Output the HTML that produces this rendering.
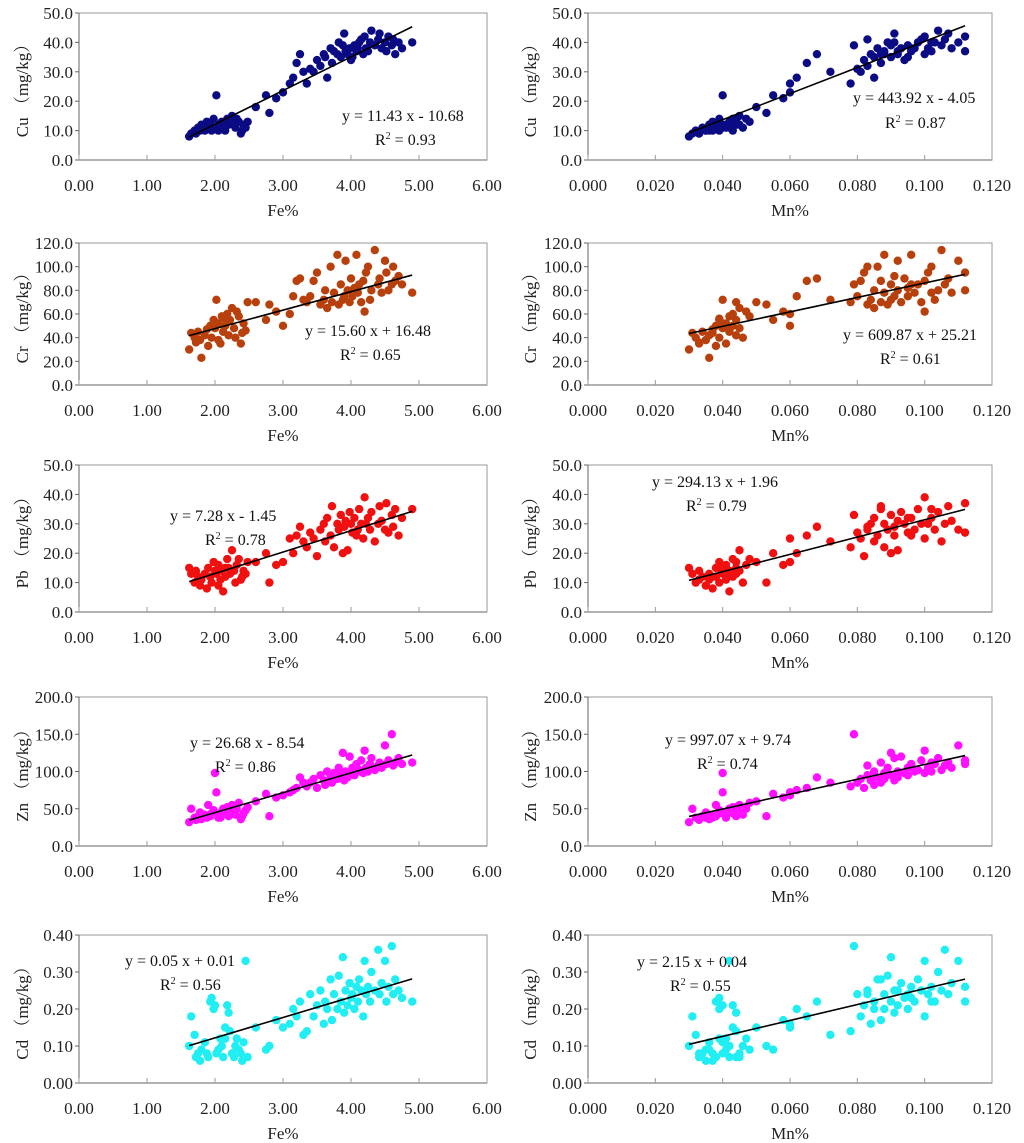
<!DOCTYPE html>
<html><head><meta charset="utf-8"><style>
body{margin:0;background:#fff;}
svg{display:block;font-family:"Liberation Serif","Noto Serif CJK SC",serif;}
</style></head><body>
<svg id="chart" width="1024" height="1143" viewBox="0 0 1024 1143"></svg>
<script>
// shared sample values
const fe = [1.62,1.65,1.70,1.72,1.75,1.78,1.80,1.85,1.88,1.90,1.93,1.95,1.98,2.00,2.02,2.05,2.08,2.10,2.12,2.15,2.18,2.20,2.22,2.25,2.28,2.30,2.32,2.35,2.38,2.40,2.42,2.45,2.48,2.05,2.15,
 2.6,2.8,2.75,2.9,3.0,3.1,3.15,3.2,3.25,3.3,
 3.35,3.4,3.45,3.5,3.55,3.6,3.62,3.65,3.7,3.72,3.75,3.8,3.82,3.85,3.88,3.9,3.92,3.95,3.98,4.0,4.02,4.05,4.08,4.1,4.12,4.15,4.18,4.2,4.22,4.25,4.28,4.3,4.35,4.4,4.42,4.45,4.5,4.52,4.55,4.6,4.62,4.65,4.7,4.75,4.9];
const mn = [0.030,0.031,0.032,0.033,0.034,0.035,0.036,0.036,0.037,0.038,0.038,0.039,0.039,0.040,0.040,0.041,0.041,0.042,0.042,0.043,0.043,0.044,0.044,0.045,0.045,0.046,0.047,0.048,0.033,0.037,0.040,0.042,0.044,0.035,0.039,
 0.050,0.053,0.055,0.058,0.060,0.060,0.062,0.065,0.068,0.072,
 0.078,0.080,0.081,0.082,0.083,0.084,0.085,0.085,0.086,0.087,0.088,0.088,0.089,0.090,0.090,0.091,0.092,0.092,0.093,0.094,0.095,0.095,0.096,0.097,0.098,0.099,0.100,0.100,0.101,0.102,0.103,0.104,0.105,0.106,0.107,0.108,0.110,0.112,0.112,0.079,0.083,0.087,0.091,0.096,0.102];
const cu = [8,9,10,9,11,10,12,10,13,11,12,10,14,11,22,12,11,13,12,10,14,12,13,15,12,11,14,13,9,10,12,11,13,10,12,
 18,16,22,21,23,26,28,33,36,30,
 26,31,30,34,32,36,35,28,38,33,37,36,40,35,39,43,37,36,38,34,35,39,37,38,40,41,36,42,38,37,40,44,39,41,43,38,40,37,42,39,41,36,40,38,40];
const cr = [30,44,40,36,45,38,23,42,47,33,50,40,55,48,72,52,35,58,45,50,60,42,55,65,48,40,62,58,35,44,52,46,70,38,56,
 70,68,55,62,50,60,75,88,90,72,
 70,75,88,95,68,72,80,65,100,70,78,110,68,85,72,75,105,80,70,90,75,82,110,78,85,70,88,62,95,100,72,80,114,85,90,78,105,95,80,85,100,88,92,85,78];
const pb = [15,13,10,14,12,9,11,13,8,15,12,10,17,14,13,16,11,14,7,12,18,15,13,21,14,10,16,18,11,12,14,13,17,9,15,
 17,10,20,16,17,25,20,26,29,24,
 22,27,25,19,28,30,24,32,26,36,22,30,28,33,20,29,31,21,34,30,27,32,26,28,35,30,25,39,30,32,28,34,24,30,36,31,28,37,27,33,29,35,26,32,35];
const zn = [32,50,38,35,40,45,36,42,38,55,40,44,48,98,72,42,38,46,50,44,52,40,48,55,45,42,50,58,36,40,44,48,52,38,46,
 60,40,70,65,68,72,75,78,92,85,
 80,85,90,78,95,88,82,100,92,85,98,90,105,95,125,88,100,92,120,98,105,95,110,100,102,115,98,128,105,100,110,118,102,108,112,105,135,110,115,150,108,112,118,110,112];
const cd = [0.10,0.18,0.13,0.07,0.08,0.06,0.09,0.11,0.08,0.07,0.22,0.23,0.20,0.21,0.08,0.09,0.12,0.10,0.07,0.15,0.21,0.19,0.14,0.08,0.07,0.10,0.12,0.09,0.08,0.06,0.11,0.33,0.07,0.09,0.12,
 0.15,0.10,0.09,0.17,0.15,0.16,0.20,0.18,0.22,0.13,
 0.14,0.24,0.18,0.21,0.25,0.16,0.22,0.20,0.28,0.17,0.24,0.20,0.29,0.22,0.34,0.19,0.25,0.21,0.27,0.23,0.24,0.20,0.26,0.22,0.28,0.25,0.18,0.33,0.24,0.26,0.22,0.30,0.25,0.36,0.24,0.27,0.33,0.22,0.26,0.37,0.24,0.28,0.25,0.23,0.22];
const feTicks = ["0.00","1.00","2.00","3.00","4.00","5.00","6.00"];
const mnTicks = ["0.000","0.020","0.040","0.060","0.080","0.100","0.120"];
const metals = ["Cu","Cr","Pb","Zn","Cd"];
const metalMax = [50,120,50,200,0.4];
const metalStep = [10,20,10,50,0.1];
const metalDec = [1,1,1,1,2];
const feSlope = [11.43,15.60,7.28,26.68,0.055];
const feIntercept = [-10.68,16.48,-1.45,-8.54,0.012];
const mnSlope = [443.92,609.87,294.13,997.07,2.15];
const mnIntercept = [-4.05,25.21,1.96,9.74,0.04];
const feEq = ["y = 11.43 x - 10.68","y = 15.60 x + 16.48","y = 7.28 x - 1.45","y = 26.68 x - 8.54","y = 0.05 x + 0.01"];
const feR2 = ["0.93","0.65","0.78","0.86","0.56"];
const mnEq = ["y = 443.92 x - 4.05","y = 609.87 x + 25.21","y = 294.13 x + 1.96","y = 997.07 x + 9.74","y = 2.15 x + 0.04"];
const mnR2 = ["0.87","0.61","0.79","0.74","0.55"];

const colors = ["#0b0b84","#b8400c","#f01010","#ff10ff","#20eef2"];
const rows = [[13,160],[243,385],[465,612],[697,846],[935,1083]];
const eqPosL = [[342,121,375,145],[305,336,340,360],[170,521,205,545],[190,748,215,772],[125,966,160,990]];
const eqPosR = [[853,103,885,128],[843,340,880,364],[652,487,686,511],[665,745,697,769],[637,967,670,991]];
const dataY = [cu,cr,pb,zn,cd];
const NS = "http://www.w3.org/2000/svg";
const svg = document.getElementById('chart');
function mk(tag, attrs, parent){const e=document.createElementNS(NS,tag);for(const k in attrs)e.setAttribute(k,attrs[k]);(parent||svg).appendChild(e);return e;}

function panel(r, side){
  const [top,bot] = rows[r];
  const x0 = side===0?79:588, x1 = side===0?487:992;
  const xs = side===0?fe:mn, xmax = side===0?6:0.12, ticks = side===0?feTicks:mnTicks;
  const ys = dataY[r], ymax = metalMax[r];
  const sx = v => x0 + v/xmax*(x1-x0);
  const sy = v => bot - v/ymax*(bot-top);
  const g = mk('g',{});
  
  
  const fr = mk('rect',{x:x0,y:top,width:x1-x0,height:bot-top,fill:'none',stroke:'#999','stroke-width':1},g);
  
  
  mk('line',{x1:x0,y1:top,x2:x0,y2:bot,stroke:'#666'},g);
  mk('line',{x1:x0,y1:bot,x2:x1,y2:bot,stroke:'#666'},g);
  const n = Math.round(ymax/metalStep[r]);
  for(let i=0;i<=n;i++){
    const v=i*metalStep[r], y=sy(v);
    mk('line',{x1:x0-4,y1:y,x2:x0,y2:y,stroke:'#666'},g);
    const t=mk('text',{x:x0-6,y:y+6,'text-anchor':'end','font-size':17,fill:'#222'},g);
    t.textContent=v.toFixed(metalDec[r]);
    
    
  }
  ticks.forEach((lab,i)=>{
    const x=x0+i/(ticks.length-1)*(x1-x0);
    mk('line',{x1:x,y1:bot-5,x2:x,y2:bot,stroke:'#999'},g);
    const t=mk('text',{x:x,y:bot+31,'text-anchor':'middle','font-size':17,fill:'#222'},g);
    t.textContent=lab;
    
    
  });
  const xt=mk('text',{x:(x0+x1)/2,y:bot+56,'text-anchor':'middle','font-size':17,fill:'#222'},g);
  xt.textContent = side===0?'Fe%':'Mn%';
  
  
  const tx = side===0?22:530, ty=(top+bot)/2;
  const yt=mk('text',{x:tx,y:ty+6,'text-anchor':'middle','font-size':17,fill:'#222',transform:`rotate(-90 ${tx} ${ty})`},g);
  yt.textContent = metals[r]+' （mg/kg）';
  
  
  for(let i=0;i<xs.length;i++){
    const c=mk('circle',{cx:sx(xs[i]),cy:sy(ys[i]),r:4.2,fill:colors[r]},g);
    
    
  }
  const lo=Math.min(...xs), hi=Math.max(...xs);
  const sl = side===0?feSlope[r]:mnSlope[r], ic = side===0?feIntercept[r]:mnIntercept[r];
  const ln=mk('line',{x1:sx(lo),y1:sy(sl*lo+ic),x2:sx(hi),y2:sy(sl*hi+ic),stroke:'#000','stroke-width':1.6},g);
  
  
  const p = side===0?eqPosL[r]:eqPosR[r];
  const e=mk('text',{x:p[0],y:p[1],'font-size':16,fill:'#111'},g);
  e.textContent = side===0?feEq[r]:mnEq[r];
  
  
  const r2=mk('text',{x:p[2],y:p[3],'font-size':16,fill:'#111'},g);
  
  
  const a=mk('tspan',{},r2); a.textContent='R';
  const b=mk('tspan',{dy:-6,'font-size':10},r2); b.textContent='2';
  const c2=mk('tspan',{dy:6},r2); c2.textContent=' = '+(side===0?feR2[r]:mnR2[r]);
}
for(let r=0;r<5;r++){panel(r,0);panel(r,1);}
</script>
</body></html>
